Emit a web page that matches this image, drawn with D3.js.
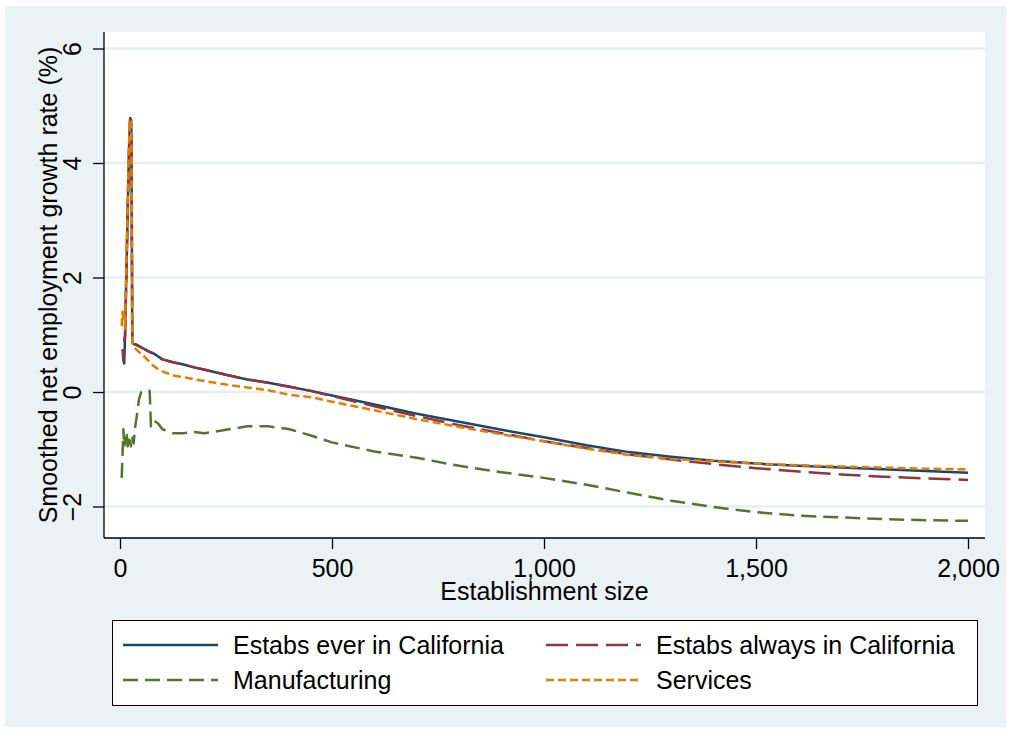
<!DOCTYPE html>
<html><head><meta charset="utf-8">
<script src="https://cdn.jsdelivr.net/npm/d3@7"></script>
<style>body{margin:0;background:#fff}text{font-family:"Liberation Sans",Arial,sans-serif}</style>
</head><body><svg id="c" width="1011" height="733"></svg>
<script>
// ---------- data ----------
const sizes = [4, 6, 8, 10, 12, 14, 16, 18, 20, 22, 24, 26, 27, 29, 32, 36, 40, 45, 50, 55, 60, 65, 70, 73, 80, 90, 100, 125, 150, 175, 200, 250, 300, 350, 400, 450, 500, 600, 700, 800, 900, 1000, 1100, 1200, 1300, 1400, 1500, 1600, 1700, 1800, 1900, 2000];
const everCA = [null, null, 0.55, 0.5, 1.0, 1.7, 2.4, 3.1, 3.8, 4.4, 4.78, 4.75, 4.5, 0.86, 0.84, 0.83, 0.82, 0.8, 0.78, 0.76, 0.74, 0.72, 0.7, 0.69, 0.67, 0.62, 0.57, 0.52, 0.48, 0.43, 0.39, 0.3, 0.22, 0.16, 0.09, 0.02, -0.06, -0.22, -0.38, -0.52, -0.66, -0.79, -0.93, -1.05, -1.13, -1.2, -1.25, -1.29, -1.32, -1.35, -1.38, -1.41];
const alwaysCA = [null, 0.75, 0.55, 0.9, 1.0, 1.7, 2.4, 3.1, 3.8, 4.4, 4.78, 4.75, 4.5, 0.86, 0.84, 0.83, 0.82, 0.8, 0.78, 0.76, 0.74, 0.72, 0.7, 0.69, 0.67, 0.62, 0.57, 0.52, 0.48, 0.43, 0.39, 0.3, 0.22, 0.16, 0.09, 0.02, -0.07, -0.25, -0.42, -0.58, -0.72, -0.86, -0.98, -1.09, -1.18, -1.26, -1.33, -1.39, -1.44, -1.48, -1.51, -1.535];
const manufacturing = [-1.5, -1.1, -0.65, -0.95, -0.8, -0.9, -0.75, -0.95, -0.8, -0.9, -0.85, -0.95, -0.85, -0.8, -0.9, -0.6, -0.4, -0.12, 0.0, 0.02, 0.03, 0.03, 0.02, -0.6, -0.5, -0.55, -0.65, -0.72, -0.72, -0.7, -0.72, -0.66, -0.6, -0.6, -0.65, -0.76, -0.88, -1.04, -1.15, -1.29, -1.4, -1.5, -1.62, -1.76, -1.9, -2.01, -2.1, -2.16, -2.19, -2.22, -2.24, -2.25];
const services = [1.15, 1.4, 1.25, 1.45, 1.1, 1.9, 2.6, 3.3, 4.0, 4.5, 4.75, 4.7, 4.4, 0.86, 0.8, 0.76, 0.73, 0.7, 0.67, 0.63, 0.6, 0.56, 0.53, 0.5, 0.45, 0.4, 0.36, 0.29, 0.26, 0.22, 0.19, 0.13, 0.08, 0.03, -0.05, -0.09, -0.17, -0.32, -0.475, -0.61, -0.74, -0.86, -0.99, -1.1, -1.17, -1.21, -1.25, -1.28, -1.3, -1.32, -1.34, -1.35];
const seriesNames = ["Estabs ever in California", "Estabs always in California", "Manufacturing", "Services"];
const xTicks = [0, 500, 1000, 1500, 2000];
const yTicks = [-2, 0, 2, 4, 6];
const xTitle = "Establishment size";
const yTitle = "Smoothed net employment growth rate (%)";

// ---------- styles ----------
const seriesValues = [everCA, alwaysCA, manufacturing, services];
const colors = ["#1a476f", "#90353b", "#55752f", "#e37e00"];
const dashes = [null, "22,8", "15,7", "8,4"];

const svg = d3.select("#c");
const W = 1011, H = 733;
const bg = "#eaf2f3";
svg.append("rect").attr("x", 0).attr("y", 0).attr("width", W).attr("height", H).attr("fill", "#fff");
svg.append("rect").attr("x", 5).attr("y", 6).attr("width", W - 10).attr("height", H - 12).attr("fill", bg);

const plot = {l: 104, r: 985, t: 32, b: 538};
svg.append("rect").attr("x", plot.l).attr("y", plot.t).attr("width", plot.r - plot.l).attr("height", plot.b - plot.t).attr("fill", "#fff");

const x = d3.scaleLinear().domain([0, 2000]).range([120, 968]);
const y = d3.scaleLinear().domain([-2, 6]).range([506.5, 48.5]);

// gridlines
svg.append("g").selectAll("line").data(yTicks).join("line")
  .attr("x1", plot.l).attr("x2", plot.r)
  .attr("y1", d => y(d)).attr("y2", d => y(d))
  .attr("stroke", "#e6eef0").attr("stroke-width", 2.5);

// lines
const line = d3.line().defined(d => d[1] !== null).x(d => x(d[0])).y(d => y(d[1]));
seriesValues.forEach((vals, i) => {
  const pts = sizes.map((s, j) => [s, vals[j]]);
  svg.append("path").datum(pts).attr("d", line)
    .attr("fill", "none").attr("stroke", colors[i]).attr("stroke-width", 2.5)
    .attr("stroke-linejoin", "round")
    .attr("stroke-dasharray", dashes[i]);
});

// axes
const yAxis = svg.append("g").attr("transform", `translate(${plot.l},0)`)
  .call(d3.axisLeft(y).tickValues(yTicks).tickSize(11).tickPadding(0).tickSizeOuter(0));
yAxis.select(".domain").attr("d", `M0,${plot.t}V${plot.b}`).attr("stroke", "#000").attr("stroke-width", 1.3);
yAxis.selectAll(".tick line").attr("stroke", "#000").attr("stroke-width", 1.3);
yAxis.selectAll(".tick text")
  .attr("x", 0).attr("y", 0).attr("dy", null)
  .attr("transform", "translate(-23,0) rotate(-90)")
  .attr("text-anchor", "middle").attr("font-size", 25).attr("fill", "#000")
  .style("font-family", '"Liberation Sans", Arial, sans-serif');

const xAxis = svg.append("g").attr("transform", `translate(0,${plot.b})`)
  .call(d3.axisBottom(x).tickValues(xTicks).tickFormat(d3.format(",")).tickSize(11).tickSizeOuter(0));
xAxis.select(".domain").attr("d", `M${plot.l},0H${plot.r}`).attr("stroke", "#000").attr("stroke-width", 1.3);
xAxis.selectAll(".tick line").attr("stroke", "#000").attr("stroke-width", 1.3);
xAxis.selectAll(".tick text").attr("y", 39).attr("dy", null)
  .attr("font-size", 25).attr("fill", "#000")
  .style("font-family", '"Liberation Sans", Arial, sans-serif');

// titles
svg.append("text").attr("x", (plot.l + plot.r) / 2).attr("y", 600)
  .attr("text-anchor", "middle").attr("font-size", 25).text(xTitle);
svg.append("text").attr("transform", `translate(57,${(plot.t + plot.b) / 2}) rotate(-90)`)
  .attr("text-anchor", "middle").attr("font-size", 25).text(yTitle);

// legend
const lg = svg.append("g");
lg.append("rect").attr("x", 112.5).attr("y", 620.5).attr("width", 865).attr("height", 85)
  .attr("fill", "#fff").attr("stroke", "#000").attr("stroke-width", 1);
const colX = [123, 546], rowY = [645, 680];
seriesNames.forEach((name, i) => {
  const cx = colX[i % 2], cy = rowY[Math.floor(i / 2)];
  lg.append("line").attr("x1", cx).attr("x2", cx + 95).attr("y1", cy).attr("y2", cy)
    .attr("stroke", colors[i]).attr("stroke-width", 2.5).attr("stroke-dasharray", dashes[i]);
  lg.append("text").attr("x", cx + 110).attr("y", cy + 9).attr("font-size", 25).text(name);
});
</script>
</body></html>
